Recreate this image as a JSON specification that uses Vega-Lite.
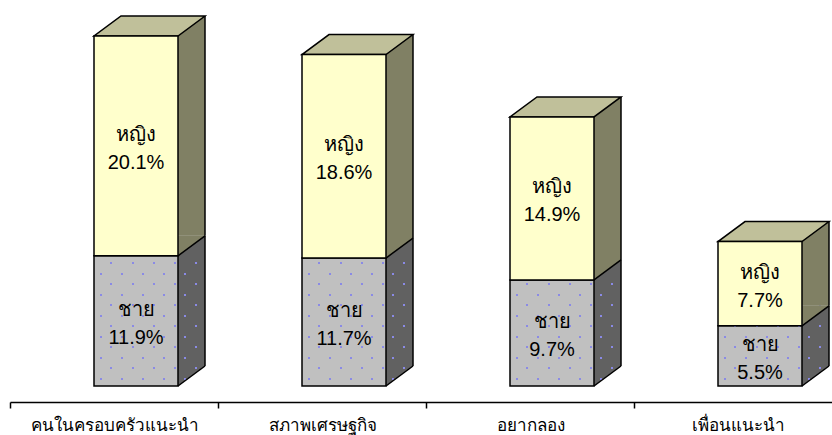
{
  "$schema": "https://vega.github.io/schema/vega-lite/v6.json",
  "width": 832,
  "height": 386,
  "autosize": {"type": "none"},
  "padding": {"left": 10, "top": 0, "right": 0, "bottom": 49},
  "background": "white",
  "config": {
    "view": {"stroke": null},
    "font": "Liberation Sans"
  },
  "data": {
    "values": [
      {"cat": "คนในครอบครัวแนะนำ", "sex": "ชาย", "value": 11.9},
      {"cat": "คนในครอบครัวแนะนำ", "sex": "หญิง", "value": 20.1},
      {"cat": "สภาพเศรษฐกิจ", "sex": "ชาย", "value": 11.7},
      {"cat": "สภาพเศรษฐกิจ", "sex": "หญิง", "value": 18.6},
      {"cat": "อยากลอง", "sex": "ชาย", "value": 9.7},
      {"cat": "อยากลอง", "sex": "หญิง", "value": 14.9},
      {"cat": "เพื่อนแนะนำ", "sex": "ชาย", "value": 5.5},
      {"cat": "เพื่อนแนะนำ", "sex": "หญิง", "value": 7.7}
    ]
  },
  "transform": [
    {"stack": "value", "groupby": ["cat"], "sort": [{"field": "sex", "order": "ascending"}], "as": ["v0", "v1"]},
    {"calculate": "(datum.v0 + datum.v1) / 2", "as": "mid"},
    {"calculate": "datum.sex + '\\n' + format(datum.value, '.1f') + '%'", "as": "label"}
  ],
  "encoding": {
    "x": {
      "field": "cat",
      "type": "nominal",
      "sort": ["คนในครอบครัวแนะนำ", "สภาพเศรษฐกิจ", "อยากลอง", "เพื่อนแนะนำ"],
      "scale": {"paddingInner": 0, "paddingOuter": 0},
      "axis": {
        "title": null,
        "offset": 16,
        "domainColor": "black",
        "domainWidth": 1.5,
        "tickColor": "black",
        "tickWidth": 1.5,
        "tickSize": 6,
        "tickBand": "extent",
        "labelAngle": 0,
        "labelFontSize": 17,
        "labelColor": "black",
        "labelBaseline": "alphabetic",
        "labelPadding": 22
      }
    }
  },
  "layer": [
    {
      "transform": [{"filter": "datum.sex === 'ชาย'"}],
      "mark": {"type": "bar", "width": 27, "xOffset": 77.5, "yOffset": -20, "y2Offset": -20, "fill": "#616161"},
      "encoding": {
        "y": {"field": "v1", "type": "quantitative", "scale": {"domain": [0, 35.29], "nice": false}, "axis": null},
        "y2": {"field": "v0"}
      }
    },
    {
      "transform": [{"filter": "datum.sex === 'ชาย'"}],
      "mark": {"type": "point", "shape": "M64,-20L64,0L91,-20Z", "size": 4, "filled": true, "opacity": 1, "strokeWidth": 0, "fill": "#616161"},
      "encoding": {
        "y": {"field": "v0", "type": "quantitative", "scale": {"domain": [0, 35.29], "nice": false}, "axis": null}
      }
    },
    {
      "transform": [{"filter": "datum.sex === 'ชาย'"}],
      "mark": {"type": "bar", "width": 84, "xOffset": 22, "stroke": "black", "strokeWidth": 1.5, "fill": "#C0C0C0"},
      "encoding": {
        "y": {"field": "v1", "type": "quantitative", "scale": {"domain": [0, 35.29], "nice": false}, "axis": null},
        "y2": {"field": "v0"}
      }
    },
    {
      "transform": [{"filter": "datum.sex === 'ชาย'"}],
      "mark": {
        "type": "point",
        "shape": "M-14,-8h2v2h-2zM7,-8h2v2h-2zM28,-8h2v2h-2zM49,-8h2v2h-2zM70,-8h2v2h-2zM-4,-19h2v2h-2zM18,-19h2v2h-2zM39,-19h2v2h-2zM60,-19h2v2h-2zM81,-19h2v2h-2zM-14,-29h2v2h-2zM7,-29h2v2h-2zM28,-29h2v2h-2zM49,-29h2v2h-2zM70,-29h2v2h-2zM-4,-40h2v2h-2zM18,-40h2v2h-2zM39,-40h2v2h-2zM60,-40h2v2h-2zM81,-40h2v2h-2zM-14,-50h2v2h-2zM7,-50h2v2h-2zM28,-50h2v2h-2zM49,-50h2v2h-2zM70,-50h2v2h-2zM-4,-61h2v2h-2zM18,-61h2v2h-2zM39,-61h2v2h-2zM60,-61h2v2h-2zM81,-61h2v2h-2zM-14,-71h2v2h-2zM7,-71h2v2h-2zM28,-71h2v2h-2zM49,-71h2v2h-2zM70,-71h2v2h-2zM-4,-82h2v2h-2zM18,-82h2v2h-2zM39,-82h2v2h-2zM60,-82h2v2h-2zM81,-82h2v2h-2zM-14,-92h2v2h-2zM7,-92h2v2h-2zM28,-92h2v2h-2zM49,-92h2v2h-2zM70,-92h2v2h-2zM-4,-103h2v2h-2zM18,-103h2v2h-2zM39,-103h2v2h-2zM60,-103h2v2h-2zM81,-103h2v2h-2zM-14,-113h2v2h-2zM7,-113h2v2h-2zM28,-113h2v2h-2zM49,-113h2v2h-2zM70,-113h2v2h-2zM-4,-124h2v2h-2zM18,-124h2v2h-2zM39,-124h2v2h-2zM60,-124h2v2h-2zM81,-124h2v2h-2z",
        "size": 4,
        "filled": true,
        "opacity": 1,
        "strokeWidth": 0,
        "fill": "#8A8AE6"
      },
      "encoding": {
        "y": {"field": "v0", "type": "quantitative", "scale": {"domain": [0, 35.29], "nice": false}, "axis": null}
      }
    },
    {
      "transform": [{"filter": "datum.sex === 'หญิง'"}],
      "mark": {"type": "bar", "width": 27, "xOffset": 77.5, "yOffset": -20, "y2Offset": -20, "fill": "#808064"},
      "encoding": {
        "y": {"field": "v1", "type": "quantitative", "scale": {"domain": [0, 35.29], "nice": false}, "axis": null},
        "y2": {"field": "v0"}
      }
    },
    {
      "transform": [{"filter": "datum.sex === 'หญิง'"}],
      "mark": {"type": "point", "shape": "M64,-20L64,0L91,-20Z", "size": 4, "filled": true, "opacity": 1, "strokeWidth": 0, "fill": "#808064"},
      "encoding": {
        "y": {"field": "v0", "type": "quantitative", "scale": {"domain": [0, 35.29], "nice": false}, "axis": null}
      }
    },
    {
      "mark": {"type": "point", "shape": "M64,0L91,-20", "size": 4, "filled": false, "opacity": 1, "stroke": "black", "strokeWidth": 1.5},
      "encoding": {
        "y": {"field": "v0", "type": "quantitative", "scale": {"domain": [0, 35.29], "nice": false}, "axis": null}
      }
    },
    {
      "mark": {"type": "rule", "xOffset": 91, "yOffset": -20, "y2Offset": -20, "stroke": "black", "strokeWidth": 1.5},
      "encoding": {
        "y": {"field": "v1", "type": "quantitative", "scale": {"domain": [0, 35.29], "nice": false}, "axis": null},
        "y2": {"field": "v0"}
      }
    },
    {
      "transform": [{"filter": "datum.sex === 'หญิง'"}],
      "mark": {"type": "point", "shape": "M-20,0L64,0L91,-20L7,-20Z", "size": 4, "filled": true, "opacity": 1, "fill": "#C0C09A", "stroke": "black", "strokeWidth": 1.5},
      "encoding": {
        "y": {"field": "v1", "type": "quantitative", "scale": {"domain": [0, 35.29], "nice": false}, "axis": null}
      }
    },
    {
      "transform": [{"filter": "datum.sex === 'หญิง'"}],
      "mark": {"type": "bar", "width": 84, "xOffset": 22, "stroke": "black", "strokeWidth": 1.5, "fill": "#FFFFCC"},
      "encoding": {
        "y": {"field": "v1", "type": "quantitative", "scale": {"domain": [0, 35.29], "nice": false}, "axis": null},
        "y2": {"field": "v0"}
      }
    },
    {
      "mark": {"type": "text", "dx": 22, "dy": -11, "align": "center", "baseline": "middle", "lineBreak": "\n", "lineHeight": 28, "fontSize": 20, "color": "black"},
      "encoding": {
        "y": {"field": "mid", "type": "quantitative", "scale": {"domain": [0, 35.29], "nice": false}, "axis": null},
        "text": {"field": "label", "type": "nominal"}
      }
    }
  ]
}
